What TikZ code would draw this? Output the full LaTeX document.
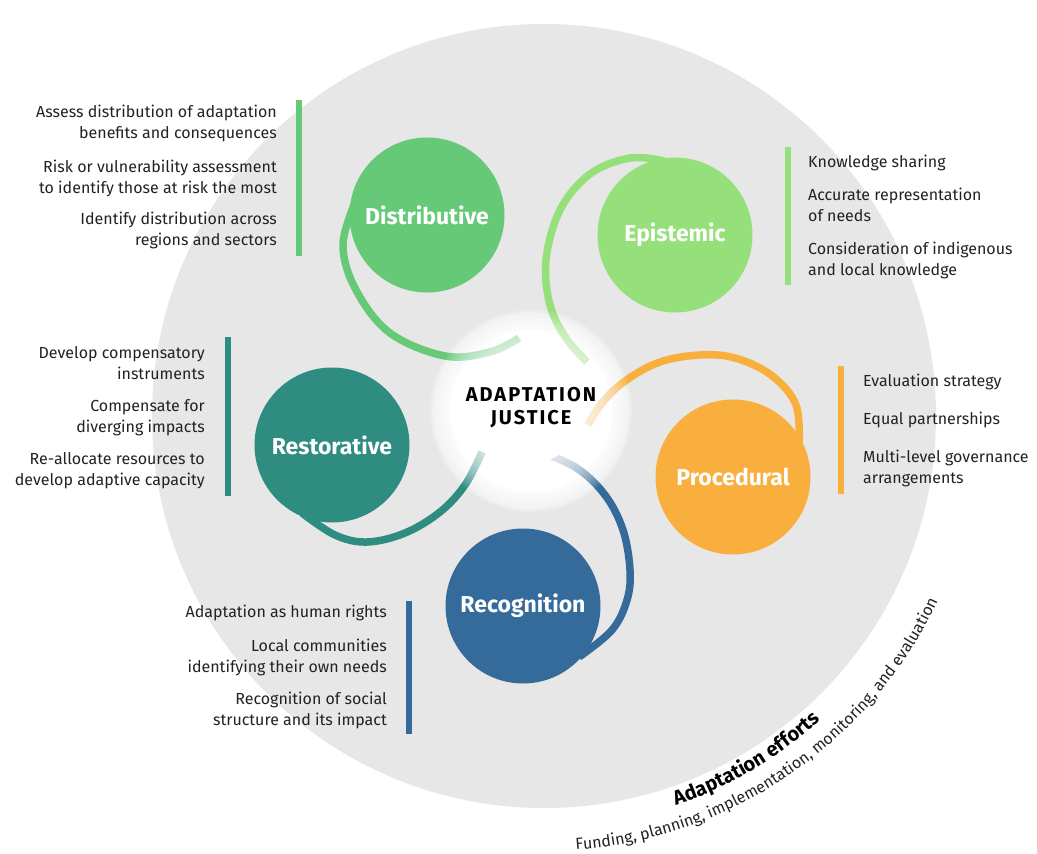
\documentclass[tikz,border=0pt]{standalone}
\usepackage{fontspec}
\setmainfont{Fira Sans}
\usetikzlibrary{decorations.text}
\definecolor{cDist}{HTML}{66C978}
\definecolor{cEpi}{HTML}{96E07B}
\definecolor{cRest}{HTML}{2F8C80}
\definecolor{cProc}{HTML}{F9AF3E}
\definecolor{cRec}{HTML}{356B9B}
\definecolor{bggray}{HTML}{E7E7E7}
\definecolor{txt}{HTML}{222222}
\tikzset{
  petal/.style={circle, minimum size=155pt, inner sep=0pt, text=white, font=\bfseries\fontsize{23}{26}\selectfont},
  tail/.style={line width=7.5pt, line cap=butt},
  glowunder/.style={fill=white, fill opacity=0.2},
  glowover/.style={fill=white, fill opacity=0.09},
  itemL/.style={anchor=base east, align=right, text=txt, inner sep=0pt, font=\fontsize{16}{20.5}\selectfont},
  itemR/.style={anchor=base west, align=left, text=txt, inner sep=0pt, font=\fontsize{16}{20.5}\selectfont},
}
\begin{document}
\begin{tikzpicture}[x=1pt,y=1pt]
\useasboundingbox (0,0) rectangle (1037,-854);
\fill[white] (0,0) rectangle (1037,-854);
\coordinate (C) at (544,-416);
\coordinate (G) at (531,-411);
\fill[bggray] (C) circle (392);
% glow background (under the tails)
\foreach \r in {101,99,...,81} { \fill[glowunder] (G) circle (\r); }
\fill[white] (G) circle (81);
% tails
\draw[tail, cDist] plot[smooth, tension=0.6] coordinates {(356,-200) (343,-245) (356,-290) (390,-333) (445,-356) (490,-352) (519,-338)};
\draw[tail, cEpi] plot[smooth, tension=0.6] coordinates {(664,-161) (630,-158) (590,-174) (560,-210) (546,-260) (550,-305) (566,-338) (587,-362)};
\draw[tail, cProc] plot[smooth, tension=0.6] coordinates {(799,-448) (796,-405) (771,-375) (735,-358) (700,-355) (660,-362) (625,-381) (602,-403) (588,-425)};
\draw[tail, cRec] plot[smooth, tension=0.6] coordinates {(579,-657) (612,-630) (627,-600) (630,-570) (623,-530) (605,-495) (575,-467) (530,-448)};
\draw[tail, cRest] plot[smooth, tension=0.6] coordinates {(302,-513) (335,-535) (367,-542) (405,-533) (440,-512) (465,-485) (482,-452)};
% glow over the tails: fades their inner ends
\foreach \r in {101,98.5,...,52} { \fill[glowover] (G) circle (\r); }
\fill[white] (G) circle (52);
\node[align=center, text=black, font=\bfseries\fontsize{20}{23}\selectfont\addfontfeatures{LetterSpace=10}] (center) at (531,-408) {ADAPTATION\\JUSTICE};
% petals
\node[petal, fill=cDist] (dist) at (427,-215) {Distributive};
\node[petal, fill=cEpi] (epi) at (675,-235) {Epistemic};
\node[petal, fill=cRest] (rest) at (332,-445) {Restorative};
\node[petal, fill=cProc] (proc) at (733,-477) {Procedural};
\node[petal, fill=cRec] (rec) at (523,-606) {Recognition};
% bars
\fill[cDist] (296,-100) rectangle (302,-256);
\fill[cEpi] (785,-147) rectangle (791,-285);
\fill[cRest] (225,-337) rectangle (231,-496);
\fill[cProc] (838,-366) rectangle (844,-494);
\fill[cRec] (406,-601) rectangle (412,-734);
% Distributive texts
\node[itemL] (d1) at (277,-138) {Assess distribution of adaptation\\benefits and consequences};
\node[itemL] (d2) at (277,-193) {Risk or vulnerability assessment\\to identify those at risk the most};
\node[itemL] (d3) at (277,-245) {Identify distribution across\\regions and sectors};
% Epistemic texts
\node[itemR] (e1) at (808,-167) {Knowledge sharing};
\node[itemR] (e2) at (808,-221) {Accurate representation\\of needs};
\node[itemR] (e3) at (808,-275) {Consideration of indigenous\\and local knowledge};
% Restorative texts
\node[itemL] (r1) at (205,-379) {Develop compensatory\\instruments};
\node[itemL] (r2) at (205,-432) {Compensate for\\diverging impacts};
\node[itemL] (r3) at (205,-485) {Re-allocate resources to\\develop adaptive capacity};
% Procedural texts
\node[itemR] (p1) at (863,-386) {Evaluation strategy};
\node[itemR] (p2) at (863,-424) {Equal partnerships};
\node[itemR] (p3) at (863,-483) {Multi-level governance\\arrangements};
% Recognition texts
\node[itemL] (g1) at (387,-617) {Adaptation as human rights};
\node[itemL] (g2) at (387,-672) {Local communities\\identifying their own needs};
\node[itemL] (g3) at (387,-725) {Recognition of social\\structure and its impact};
% curved texts
\path[decorate, decoration={text along path, text align=center, text={|\color{black}\bfseries\fontsize{20}{22}\selectfont|Adaptation efforts}}]
  ([shift={(-80:411)}]C) arc[start angle=-80, end angle=-39, radius=411];
\path[decorate, decoration={text along path, text align=center, text={|\color{txt}\fontsize{16}{18}\selectfont|Funding, planning, implementation, monitoring, and evaluation}}]
  ([shift={(-90:435)}]C) arc[start angle=-90, end angle=-21, radius=435];
\end{tikzpicture}
\end{document}
